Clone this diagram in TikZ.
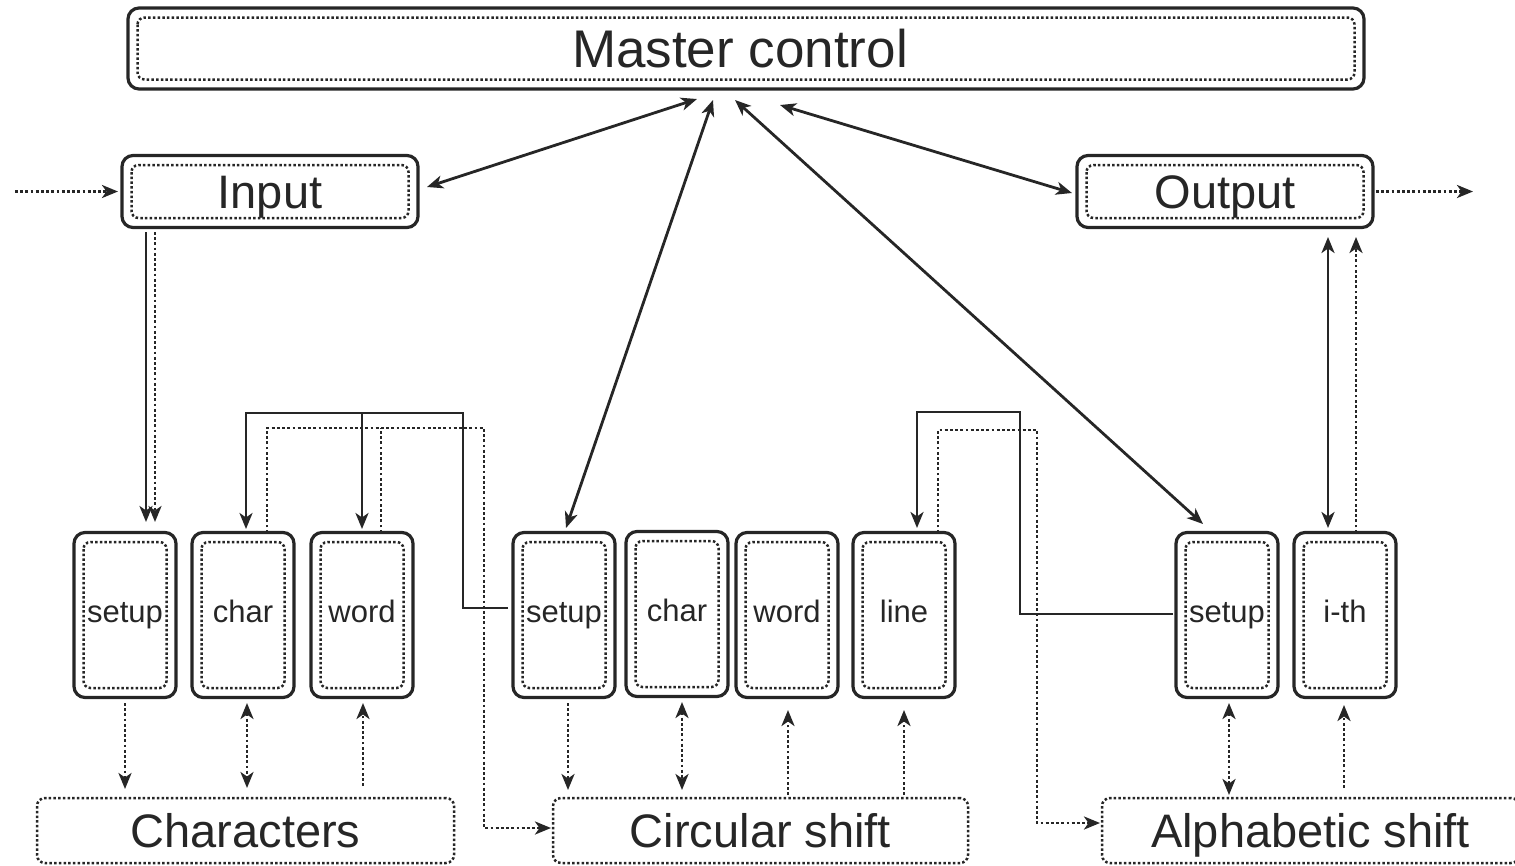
\documentclass[tikz,border=0pt]{standalone}
\usepackage{fontspec}
\setmainfont{Liberation Sans}
\usetikzlibrary{arrows.meta,calc}
\definecolor{ink}{RGB}{38,38,38}
\begin{document}
\begin{tikzpicture}[x=1pt,y=-1pt,
  >={Stealth[length=16pt,width=13pt,inset=4.5pt]},
  conn/.style={color=ink, line width=2.8pt},
  dconn/.style={color=ink, line width=2.8pt, dash pattern=on 2.8pt off 2.4pt},
  box/.style={draw=ink, line width=3.2pt, rounded corners=11pt, inner sep=0pt, outer sep=0pt, text=ink,
    path picture={\draw[ink, line width=2.5pt, dash pattern=on 2.5pt off 2.2pt, rounded corners=7pt]
      ($(path picture bounding box.north west)+(9.5pt,-9.5pt)$) rectangle
      ($(path picture bounding box.south east)+(-9.5pt,9.5pt)$);}},
  bigbox/.style={box, minimum height=72pt, minimum width=296pt, font=\fontsize{47}{47}\selectfont,
    text height=34pt, text depth=0pt},
  smallbox/.style={box, minimum width=102pt, minimum height=165pt, font=\fontsize{31}{31}\selectfont,
    text height=22pt, text depth=6.5pt},
  store/.style={draw=ink, line width=2.5pt, dash pattern=on 2.5pt off 2.2pt, rounded corners=8pt,
    inner sep=0pt, outer sep=0pt, text=ink, minimum height=65pt, font=\fontsize{47}{47}\selectfont,
    text height=34pt, text depth=0pt}]
\useasboundingbox (0,0) rectangle (1515,865);

% nodes
\node[box, minimum width=1236pt, minimum height=81pt, font=\fontsize{53}{53}\selectfont,
  text height=38pt, text depth=0pt] (master) at (746,48.5) {\hspace*{-12pt}Master control};
\node[bigbox] (input) at (270,191.5) {Input};
\node[bigbox] (output) at (1225,191.5) {Output};

\node[smallbox] (setup1) at (125,615) {setup};
\node[smallbox] (char1) at (243,615) {char};
\node[smallbox] (word1) at (362,615) {word};
\node[smallbox] (setup2) at (564,615) {setup};
\node[smallbox] (char2) at (677,614) {char};
\node[smallbox] (word2) at (787,615) {word};
\node[smallbox] (line) at (904,615) {line};
\node[smallbox] (setup3) at (1227,615) {setup};
\node[smallbox] (ith) at (1345,615) {i-th};

\node[store, minimum width=417pt] (chars) at (245.5,830.5) {Characters};
\node[store, minimum width=415pt] (circ) at (760.5,830.5) {Circular shift};
\node[store, minimum width=417pt] (alpha) at (1310.5,830.5) {Alphabetic shift};

% junction coordinates
\coordinate (inL) at (15,191.5);
\coordinate (outR) at (1473,191.5);
\coordinate (jL) at (463,413);
\coordinate (dL) at (484,428);
\coordinate (jR) at (1020,412);
\coordinate (dR) at (1037,430);

% input / output flow
\draw[dconn,->] (inL) -- ($(input.west)+(-4,0)$);
\draw[dconn,->] ($(output.east)+(3,0)$) -- (outR);

% master control links
\draw[conn,<->] ($(input.east)+(9,-4.5)$) -- ($(master.south)+(-49,10)$);
\draw[conn,<->] ($(setup2.north)+(2,-4.5)$) -- ($(master.south)+(-33,11)$);
\draw[conn,<->] ($(setup3.north)+(-24,-8.5)$) -- ($(master.south)+(-11,11)$);
\draw[conn,<->] ($(output.west)+(-5,1.5)$) -- ($(master.south)+(34,16)$);

% input to setup1
\draw[conn,->] ($(input.south)+(-124,4.5)$) -- ($(setup1.north)+(21,-10.5)$);
\draw[dconn,->] ($(input.south)+(-115,4.5)$) -- ($(setup1.north)+(30,-10.5)$);

% left control path
\draw[conn,->] ($(setup2.west)+(-5,-7)$) -| (jL) -| ($(char1.north)+(3,-3.5)$);
\draw[conn,->] (jL -| word1.north) -- ($(word1.north)+(0,-3.5)$);
% left data path
\draw[dconn,->] ($(char1.north)+(24,0)$) |- (dL) |- ($(circ.west)+(-2,-2.5)$);
\draw[dconn] ($(word1.north)+(19,0)$) -- ($(word1.north)+(19,-104.5)$);

% right control path
\draw[conn,->] ($(setup3.west)+(-3,-1)$) -| (jR) -| ($(line.north)+(13,-4.5)$);
% right data path
\draw[dconn,->] ($(line.north)+(34,0)$) |- (dR) |- ($(alpha.west)+(-2,-7.5)$);

% output links
\draw[conn,<->] ($(output.south)+(103,9.5)$) -- ($(ith.north)+(-17,-4.5)$);
\draw[dconn,->] ($(ith.north)+(11,0)$) -- ($(output.south)+(131,9.5)$);

% bottom links
\draw[dconn,->] ($(setup1.south)+(0,5.5)$) -- ($(setup1.south |- chars.north)+(0,-9)$);
\draw[dconn,<->] ($(char1.south)+(4,5.5)$) -- ($(char1.south |- chars.north)+(4,-10)$);
\draw[dconn,->] ($(word1.south |- chars.north)+(1,-12)$) -- ($(word1.south)+(1,5.5)$);
\draw[dconn,->] ($(setup2.south)+(4,5.5)$) -- ($(setup2.south |- circ.north)+(4,-8)$);
\draw[dconn,<->] ($(char2.south)+(5,5.5)$) -- ($(char2.south |- circ.north)+(5,-8)$);
\draw[dconn,->] ($(word2.south |- circ.north)+(1,-3)$) -- ($(word2.south)+(1,12.5)$);
\draw[dconn,->] ($(line.south |- circ.north)+(0,-3)$) -- ($(line.south)+(0,12.5)$);
\draw[dconn,<->] ($(setup3.south)+(2,5.5)$) -- ($(setup3.south |- alpha.north)+(2,-3)$);
\draw[dconn,->] ($(ith.south |- alpha.north)+(-1,-10)$) -- ($(ith.south)+(-1,7.5)$);
\end{tikzpicture}
\end{document}
